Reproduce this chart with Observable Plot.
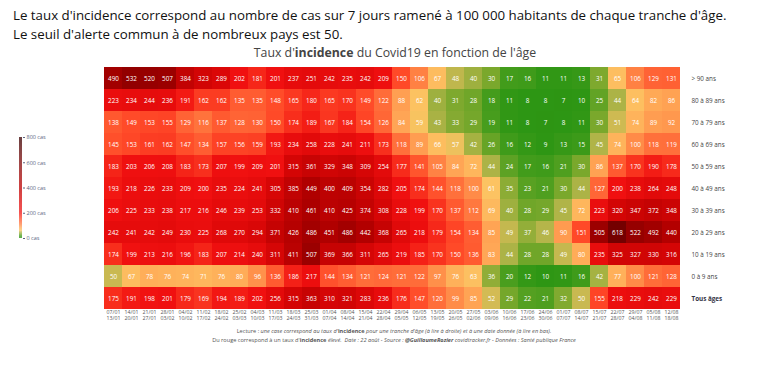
<!DOCTYPE html>
<html><head><meta charset="utf-8">
<script src="https://cdn.jsdelivr.net/npm/d3@7"></script>
<script src="https://cdn.jsdelivr.net/npm/@observablehq/plot@0.6"></script>
<style>
body{margin:0;width:760px;height:381px;background:#fff;font-family:"Open Sans",sans-serif;position:relative;overflow:hidden}
#intro{position:absolute;left:13px;top:6px;font-size:13.3px;line-height:19px;color:#111;white-space:nowrap}
#ctitle{position:absolute;left:0;width:790px;top:44px;text-align:center;font-size:12.3px;color:#444}
#chart{position:absolute;left:0;top:62px}
#legend{position:absolute;left:0;top:130px}
#foot{position:absolute;left:0;width:788px;top:327px;text-align:center;font-size:5.6px;line-height:9px;color:#555;white-space:nowrap}
</style></head>
<body>
<div id="intro">Le taux d'incidence correspond au nombre de cas sur 7 jours ramené à 100 000 habitants de chaque tranche d'âge.<br>Le seuil d'alerte commun à de nombreux pays est 50.</div>
<div id="ctitle">Taux d'<b>incidence</b> du Covid19 en fonction de l'âge</div>
<div id="chart"></div>
<div id="legend"></div>
<div id="foot">Lecture : <i>une case correspond au taux d'</i><b>incidence</b> <i>pour une tranche d'âge (à lire à droite) et à une date donnée (à lire en bas).</i><br>Du rouge correspond à un taux d'<b>incidence</b> <i>élevé.&nbsp; Date : 22 août - Source : <b>@GuillaumeRozier</b> covidtracker.fr - Données : Santé publique France</i></div>
<script>
const weekStart = ["07/01","14/01","21/01","28/01","04/02","11/02","18/02","25/02","04/03","11/03","18/03","25/03","01/04","08/04","15/04","22/04","29/04","06/05","13/05","20/05","27/05","03/06","10/06","17/06","24/06","01/07","08/07","15/07","22/07","29/07","05/08","12/08"];
const weekEnd = ["13/01","20/01","27/01","03/02","10/02","17/02","24/02","03/03","10/03","17/03","24/03","31/03","07/04","14/04","21/04","28/04","05/05","12/05","19/05","26/05","02/06","09/06","16/06","23/06","30/06","07/07","14/07","21/07","28/07","04/08","11/08","18/08"];
const ages = ["> 90 ans","80 à 89 ans","70 à 79 ans","60 à 69 ans","50 à 59 ans","40 à 49 ans","30 à 39 ans","20 à 29 ans","10 à 19 ans","0 à 9 ans","Tous âges"];

const inc90 = [490,532,520,507,384,323,289,202,181,201,237,251,242,235,242,209,150,106,67,48,40,30,17,16,11,11,13,31,65,106,129,131];
const inc80 = [223,234,244,236,191,162,162,135,135,148,165,180,165,170,149,122,88,62,40,31,28,18,11,8,8,7,10,25,44,64,82,86];
const inc70 = [138,149,153,155,129,116,137,128,130,150,174,189,167,184,154,126,84,59,43,33,29,19,11,8,7,8,11,30,51,74,89,92];
const inc60 = [145,153,161,162,147,134,157,156,159,193,234,258,228,241,211,173,118,89,66,57,42,26,16,12,9,13,15,45,74,100,118,119];
const inc50 = [183,203,206,208,183,173,207,199,209,201,315,361,329,348,309,254,177,141,105,84,72,44,24,17,16,21,30,86,137,170,190,178];
const inc40 = [193,218,226,233,209,200,235,224,241,305,385,449,400,409,354,282,205,174,144,118,100,61,35,23,21,30,44,127,200,238,264,248];
const inc30 = [206,225,233,238,217,216,246,239,253,332,410,461,410,425,374,308,228,199,170,137,112,69,40,28,29,45,72,223,320,347,372,348];
const inc20 = [242,241,242,249,230,225,268,270,294,371,426,486,451,486,442,368,265,218,179,154,134,85,49,37,46,90,151,505,618,522,492,440];
const inc10 = [174,199,213,216,196,183,207,214,240,311,411,507,369,366,311,265,219,185,170,150,136,83,44,28,28,49,80,235,325,327,330,316];
const inc0 = [50,67,78,76,74,71,76,80,96,136,186,217,144,134,121,124,121,122,97,76,63,36,20,12,10,11,16,42,77,100,121,128];
const incAll = [175,191,198,201,179,169,194,189,202,256,315,363,310,321,283,236,176,147,120,99,85,52,29,22,21,32,50,155,218,229,242,229];

const legendTicks = [0,200,400,600,800];
const colorStops = [0,10,20,30,45,60,80,110,150,200,300,450,600,800];
const colorRange = ["#2a9412","#2e9614","#4a9e1e","#7aa82c","#b0b448","#fcc462","#ffac58","#ff7a40","#ff4a28","#f01010","#d80606","#b00000","#7a0000","#3a0000"];

const rows = [inc90,inc80,inc70,inc60,inc50,inc40,inc30,inc20,inc10,inc0,incAll];
const table = [];
rows.forEach((r,i)=>r.forEach((v,j)=>table.push({age:ages[i],week:weekStart[j],value:v})));
const weeks = weekStart.map((s,i)=>({s, e:weekEnd[i]}));

const colorOpts = {type:"linear", domain:colorStops, range:colorRange, interpolate:"rgb"};

const chart = Plot.plot({
  width:760, height:290, marginTop:5, marginLeft:97, marginRight:73, marginBottom:43,
  x:{domain:weekStart, axis:null, padding:0},
  y:{domain:ages, axis:null, padding:0},
  color:colorOpts,
  style:{fontFamily:"Open Sans", background:"transparent"},
  marks:[
    Plot.cell(table,{x:"week",y:"age",fill:"value",inset:0}),
    Plot.text(table,{x:"week",y:"age",text:d=>String(d.value),fill:"white",fontSize:6.3}),
    Plot.text(weeks,{x:"s",text:"s",frameAnchor:"bottom",dy:4,fontSize:5.2,fill:"#555"}),
    Plot.text(weeks,{x:"s",text:"e",frameAnchor:"bottom",dy:10.6,fontSize:5.2,fill:"#555"}),
    Plot.text(ages.slice(0,10),{y:d=>d,text:d=>d,frameAnchor:"right",textAnchor:"start",dx:4,fontSize:6.3,fill:"#444"}),
    Plot.text(ages.slice(10),{y:d=>d,text:d=>d,frameAnchor:"right",textAnchor:"start",dx:4,fontSize:6.3,fill:"#334",fontWeight:"bold"})
  ]
});
document.getElementById("chart").append(chart);

const steps = d3.range(0,800,4);
const legend = Plot.plot({
  width:70, height:115, marginTop:7, marginBottom:7, marginLeft:19, marginRight:48,
  x:{domain:[0,1], axis:null},
  y:{domain:[0,800], ticks:legendTicks, tickFormat:d=>d+" cas", axis:"right", tickSize:2, tickPadding:2, label:null},
  color:colorOpts,
  style:{fontFamily:"Open Sans", fontSize:"5.5px", color:"#5a6480", background:"transparent"},
  marks:[
    Plot.rect(steps,{x1:0,x2:1,y1:d=>d,y2:d=>d+4,fill:d=>d})
  ]
});
document.getElementById("legend").append(legend);
</script>
</body></html>
